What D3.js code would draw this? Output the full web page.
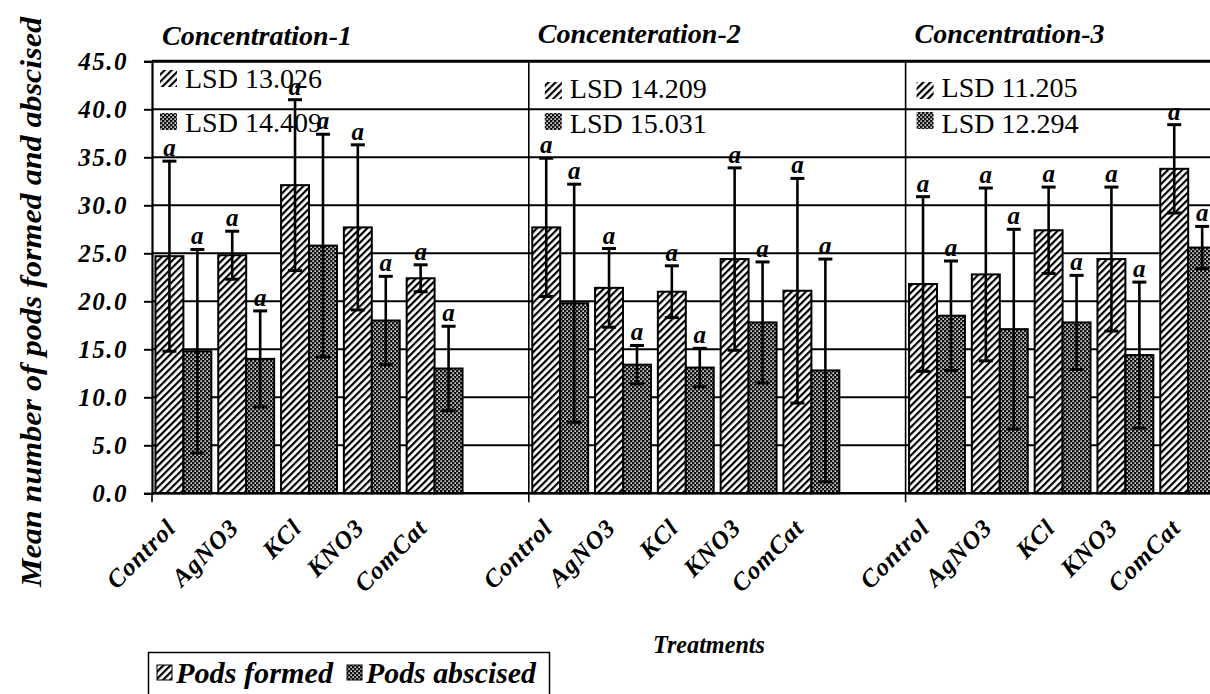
<!DOCTYPE html>
<html>
<head>
<meta charset="utf-8">
<script src="https://cdn.jsdelivr.net/npm/d3@7"></script>
<style>
  html, body { margin: 0; padding: 0; background: #fff; }
  svg { display: block; }
</style>
</head>
<body>
<svg id="chart" width="1210" height="694"></svg>
<script>
// Treatments within each concentration block
const treatments = ["Control", "AgNO3", "KCl", "KNO3", "ComCat"];
const concentrations = ["Concentration-1", "Concenteration-2", "Concentration-3"];

// Mean number of pods formed, per concentration (rows) and treatment (columns)
const podsFormed = [
  [24.7, 24.8, 32.1, 27.7, 22.4],
  [27.7, 21.4, 21.0, 24.4, 21.1],
  [21.8, 22.8, 27.4, 24.4, 33.8]
];
const podsFormedErr = [
  [9.9, 2.5, 8.9, 8.6, 1.4],
  [7.2, 4.1, 2.7, 9.5, 11.7],
  [9.1, 9.0, 4.5, 7.5, 4.6]
];

// Mean number of pods abscised
const podsAbscised = [
  [14.8, 14.0, 25.8, 18.0, 13.0],
  [19.8, 13.4, 13.1, 17.8, 12.8],
  [18.5, 17.1, 17.8, 14.4, 25.6]
];
const podsAbscisedErr = [
  [10.6, 5.0, 11.6, 4.6, 4.4],
  [12.4, 2.0, 2.0, 6.3, 11.6],
  [5.7, 10.4, 4.9, 7.6, 2.2]
];

// Significance letters above each error bar
const letters = ["a", "a", "a", "a", "a"];

// Least significant differences per concentration
const lsdFormed = ["13.026", "14.209", "11.205"];
const lsdAbscised = ["14.409", "15.031", "12.294"];

const yTicks = [0, 5, 10, 15, 20, 25, 30, 35, 40, 45];
const seriesNames = ["Pods formed", "Pods abscised"];

const SERIF = "'Liberation Serif'";

const svg = d3.select("#chart");
const defs = svg.append("defs");

// Serif text, bold italic unless asked otherwise; inline declarations keep the face fixed
function serif(sel, size, bi = true, extra = "") {
  const css = `font-family: ${SERIF} !important; font-size: ${size}px !important;` +
    (bi ? " font-weight: bold !important; font-style: italic !important;" : " font-weight: normal !important; font-style: normal !important;") +
    extra;
  return sel.attr("font-family", SERIF)
    .attr("fill", "#000")
    .attr("style", css);
}

// Diagonal hatching for pods formed
const hatch = defs.append("pattern")
  .attr("id", "hatch").attr("patternUnits", "userSpaceOnUse")
  .attr("width", 5).attr("height", 5)
  .attr("patternTransform", "rotate(45)");
hatch.append("rect").attr("width", 5).attr("height", 5).attr("fill", "#fff");
hatch.append("rect").attr("x", 0).attr("y", 0).attr("width", 2.2).attr("height", 5).attr("fill", "#000");

// Fine dotted checker for pods abscised
const dots = defs.append("pattern")
  .attr("id", "dots").attr("patternUnits", "userSpaceOnUse")
  .attr("width", 4).attr("height", 4);
dots.append("rect").attr("width", 4).attr("height", 4).attr("fill", "#111");
dots.append("rect").attr("x", 0.4).attr("y", 0.4).attr("width", 1.5).attr("height", 1.5).attr("fill", "#fff");
dots.append("rect").attr("x", 2.4).attr("y", 2.4).attr("width", 1.5).attr("height", 1.5).attr("fill", "#fff");

const fills = ["url(#hatch)", "url(#dots)"];

// Each concentration block has five treatment slots plus one empty slot
const slotKeys = [];
concentrations.forEach((c, ci) => {
  treatments.forEach(t => slotKeys.push(ci + "|" + t));
  slotKeys.push(ci + "|gap");
});

const plotLeft = 152;
const x = d3.scaleBand()
  .domain(slotKeys)
  .range([plotLeft, 1282.4])
  .paddingInner(0.11)
  .paddingOuter(0.055);
const step = x.step();
const barW = x.bandwidth() / 2;

const y = d3.scaleLinear().domain([0, 45]).range([493.3, 61.3]);

// Horizontal gridlines
svg.append("g").selectAll("line")
  .data(yTicks.filter(v => v > 0))
  .join("line")
  .attr("x1", plotLeft).attr("x2", 1210)
  .attr("y1", d => y(d)).attr("y2", d => y(d))
  .attr("stroke", "#000")
  .attr("stroke-width", d => d === 45 ? 3 : 2);

// Y axis with bold italic labels
const yAxis = d3.axisLeft(y)
  .tickValues(yTicks)
  .tickFormat(d3.format(".1f"))
  .tickSize(8)
  .tickPadding(16);
const yAxisG = svg.append("g")
  .attr("transform", `translate(${plotLeft},0)`)
  .call(yAxis);
yAxisG.attr("font-family", SERIF);
yAxisG.select(".domain").attr("stroke", "#000").attr("stroke-width", 2.2);
yAxisG.selectAll(".tick line").attr("stroke", "#000").attr("stroke-width", 2);
serif(yAxisG.selectAll(".tick text"), 25, true, " letter-spacing: 1.5px;")
  .attr("dy", "0.34em");

// Build the bar records
const bars = [];
concentrations.forEach((c, ci) => {
  treatments.forEach((t, ti) => {
    const x0 = x(ci + "|" + t);
    [[podsFormed, podsFormedErr], [podsAbscised, podsAbscisedErr]].forEach(([vals, errs], si) => {
      bars.push({
        ci, ti, si,
        x: x0 + si * barW,
        value: vals[ci][ti],
        err: errs[ci][ti],
        letter: letters[ti]
      });
    });
  });
});

// Bars
svg.append("g").selectAll("rect")
  .data(bars)
  .join("rect")
  .attr("x", d => d.x)
  .attr("y", d => y(d.value))
  .attr("width", barW)
  .attr("height", d => y(0) - y(d.value))
  .attr("fill", d => fills[d.si])
  .attr("stroke", "#000")
  .attr("stroke-width", 2);

// Error bars
const capW = 14;
const eg = svg.append("g").attr("stroke", "#000").attr("stroke-width", 2.6);
eg.selectAll("line.stem").data(bars).join("line").attr("class", "stem")
  .attr("x1", d => d.x + barW / 2).attr("x2", d => d.x + barW / 2)
  .attr("y1", d => y(d.value + d.err)).attr("y2", d => y(d.value - d.err));
eg.selectAll("line.capTop").data(bars).join("line").attr("class", "capTop")
  .attr("x1", d => d.x + barW / 2 - capW / 2).attr("x2", d => d.x + barW / 2 + capW / 2)
  .attr("y1", d => y(d.value + d.err)).attr("y2", d => y(d.value + d.err))
  .attr("stroke-width", 3);
eg.selectAll("line.capBot").data(bars).join("line").attr("class", "capBot")
  .attr("x1", d => d.x + barW / 2 - capW / 2).attr("x2", d => d.x + barW / 2 + capW / 2)
  .attr("y1", d => y(d.value - d.err)).attr("y2", d => y(d.value - d.err))
  .attr("stroke-width", 3);

// Significance letters
serif(svg.append("g").selectAll("text")
  .data(bars)
  .join("text"), 25)
  .attr("x", d => d.x + barW / 2)
  .attr("y", d => y(d.value + d.err) - 5)
  .attr("text-anchor", "middle")
  .text(d => d.letter);

// X axis baseline
svg.append("line")
  .attr("x1", plotLeft).attr("x2", 1210)
  .attr("y1", y(0)).attr("y2", y(0))
  .attr("stroke", "#000").attr("stroke-width", 2.6);

// Block dividers and boundary ticks
const boundaries = concentrations.map((c, ci) => x(ci + "|Control") - x.paddingOuter() * step);
svg.append("g").selectAll("line")
  .data(boundaries)
  .join("line")
  .attr("x1", d => d).attr("x2", d => d)
  .attr("y1", (d, i) => i === 0 ? y(0) : y(45))
  .attr("y2", y(0) + 9)
  .attr("stroke", "#000")
  .attr("stroke-width", 1.6);

// Rotated treatment labels
serif(svg.append("g").selectAll("text")
  .data(bars.filter(d => d.si === 0))
  .join("text"), 25, true, " letter-spacing: 1px;")
  .attr("transform", d => `translate(${d.x + barW - 6},${y(0) + 36}) rotate(-45)`)
  .attr("text-anchor", "end")
  .text(d => treatments[d.ti]);

// Block titles
const titleOffsets = [10, 9, 9];
const titleY = [45, 43, 43];
const titleW = [190, 203, 190];
serif(svg.append("g").selectAll("text")
  .data(concentrations)
  .join("text"), 28)
  .attr("x", (d, i) => boundaries[i] + titleOffsets[i])
  .attr("y", (d, i) => titleY[i])
  .attr("textLength", (d, i) => titleW[i])
  .attr("lengthAdjust", "spacingAndGlyphs")
  .text(d => d);

// LSD key inside each block
const lsdX = [8, 16, 11];
const lsdRows = [
  { vals: lsdFormed, fill: fills[0], swY: [70, 82, 82], textY: [88, 98, 97] },
  { vals: lsdAbscised, fill: fills[1], swY: [113, 113, 112], textY: [132, 133, 133] }
];
lsdRows.forEach(row => {
  concentrations.forEach((c, ci) => {
    const bx = boundaries[ci] + lsdX[ci];
    svg.append("rect")
      .attr("x", bx).attr("y", row.swY[ci])
      .attr("width", 17).attr("height", 17)
      .attr("fill", row.fill);
    serif(svg.append("text"), 28, false)
      .attr("x", bx + 25).attr("y", row.textY[ci])
      .text("LSD " + row.vals[ci]);
  });
});

// Axis titles
serif(svg.append("text"), 30)
  .attr("transform", "translate(41,302) rotate(-90)")
  .attr("text-anchor", "middle")
  .attr("textLength", 570)
  .attr("lengthAdjust", "spacingAndGlyphs")
  .text("Mean number of pods formed and abscised");

serif(svg.append("text"), 26)
  .attr("x", 709).attr("y", 653)
  .attr("text-anchor", "middle")
  .attr("textLength", 112)
  .attr("lengthAdjust", "spacingAndGlyphs")
  .text("Treatments");

// Series legend
const lg = svg.append("g");
lg.append("rect")
  .attr("x", 148.5).attr("y", 652.5).attr("width", 401).attr("height", 60)
  .attr("fill", "#fff").attr("stroke", "#000").attr("stroke-width", 1.5);
const legendX = [157, 347];
const legendW = [157, 170];
seriesNames.forEach((name, i) => {
  lg.append("rect")
    .attr("x", legendX[i]).attr("y", 665).attr("width", 15).attr("height", 15)
    .attr("fill", fills[i]).attr("stroke", "#000").attr("stroke-width", 1);
  serif(lg.append("text"), 29)
    .attr("x", legendX[i] + 19).attr("y", 683)
    .attr("textLength", legendW[i])
    .attr("lengthAdjust", "spacingAndGlyphs")
    .text(name);
});
</script>
</body>
</html>
